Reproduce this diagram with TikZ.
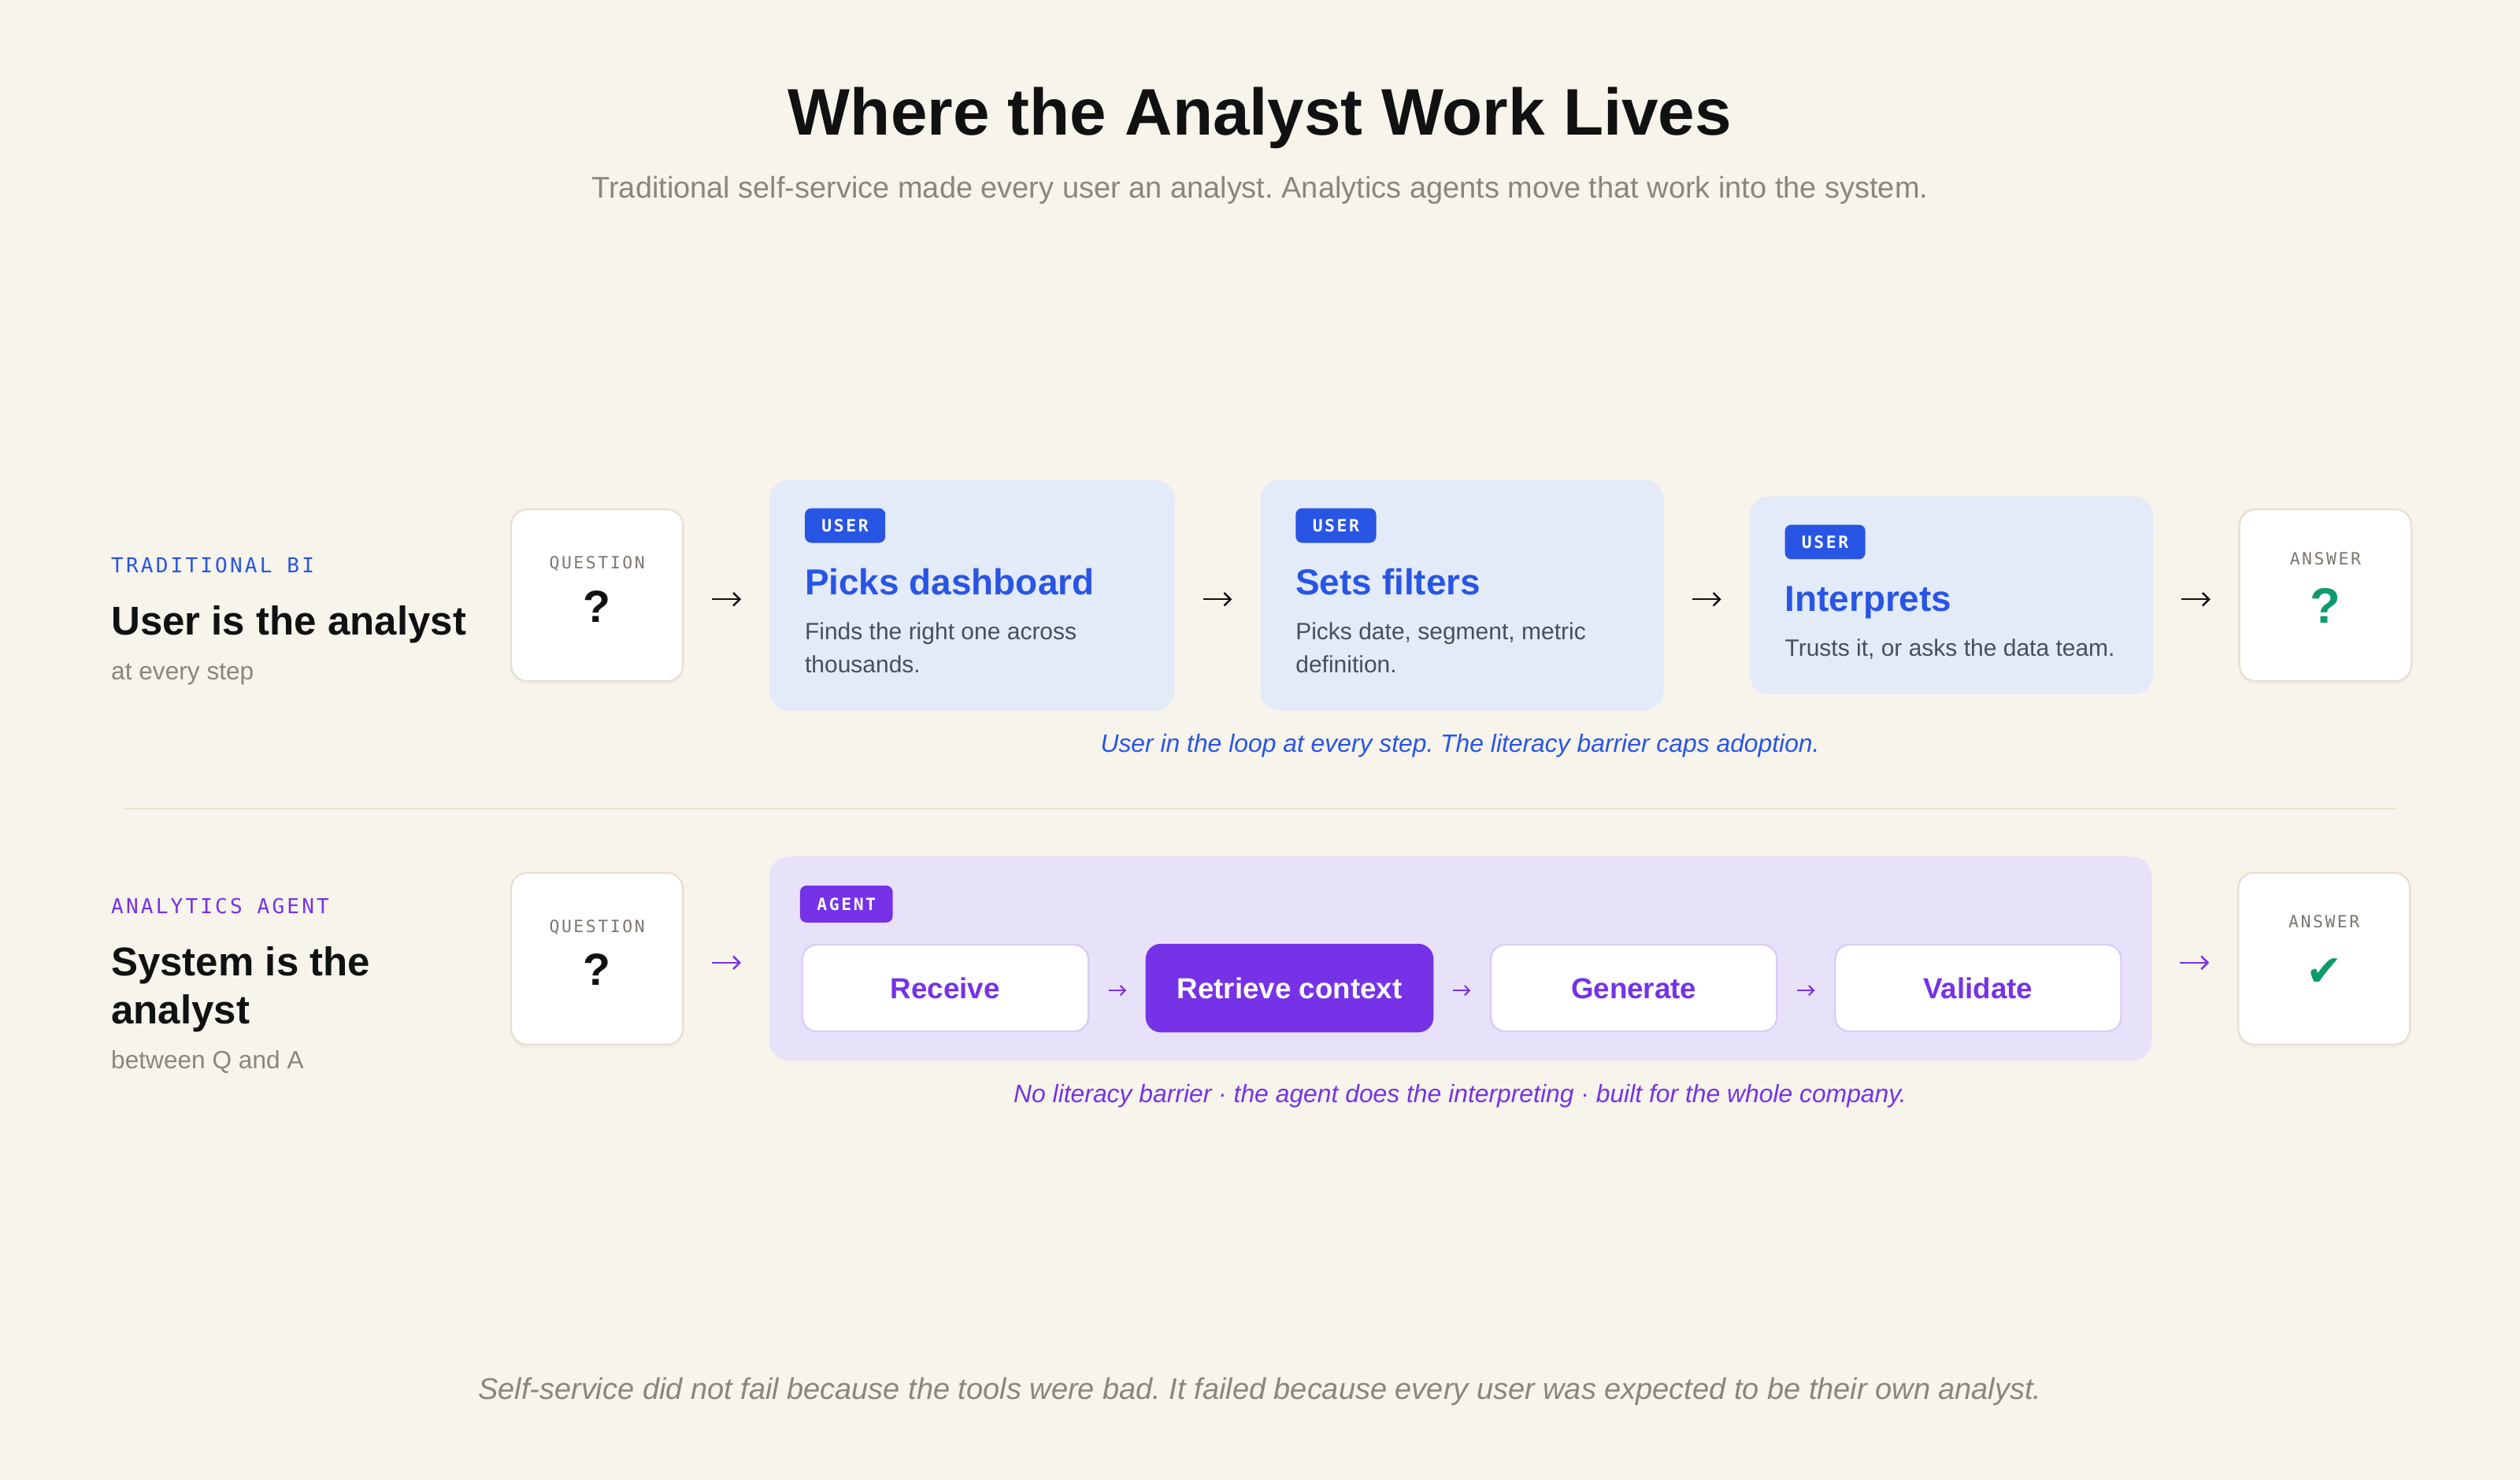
\documentclass[tikz,border=0pt]{standalone}
\usepackage{fontspec}
\setmainfont{Liberation Sans}
\newfontfamily\monofont[LetterSpace=12]{DejaVu Sans Mono}
\newfontfamily\symbolfont{DejaVu Sans}
\usetikzlibrary{positioning,arrows.meta,shadows}
\frenchspacing

\definecolor{bgcream}{HTML}{F7F4EC}
\definecolor{inkblack}{HTML}{111111}
\definecolor{userblue}{HTML}{2855E4}
\definecolor{cardblue}{HTML}{E3EAF8}
\definecolor{agentpurple}{HTML}{7632E6}
\definecolor{agentlav}{HTML}{E8E1FA}
\definecolor{stepline}{HTML}{DACDF6}
\definecolor{boxline}{HTML}{E7E0D2}
\definecolor{mutedgray}{HTML}{8A857D}
\definecolor{taggray}{HTML}{7C776F}
\definecolor{descgray}{HTML}{4A4E5B}
\definecolor{okgreen}{HTML}{0F9A6D}
\definecolor{rulebeige}{HTML}{E6E0CE}

\tikzset{
  titletext/.style={anchor=base, inner sep=0pt, text=inkblack, font=\fontsize{41}{49}\selectfont\bfseries},
  subtext/.style={anchor=base, inner sep=0pt, text=mutedgray, font=\fontsize{18.6}{22}\selectfont},
  rowtag/.style={anchor=base west, inner sep=0pt, font=\monofont\fontsize{12.8}{15}\selectfont},
  rowhead/.style={anchor=base west, inner sep=0pt, align=left, text=inkblack, font=\fontsize{25}{30}\selectfont\bfseries},
  rownote/.style={anchor=base west, inner sep=0pt, text=mutedgray, font=\fontsize{15.5}{18}\selectfont},
  endbox/.style={draw=boxline, line width=1.2pt, fill=white, rounded corners=10pt, minimum width=107pt, minimum height=107pt, inner sep=0pt, drop shadow={shadow xshift=0pt, shadow yshift=-2pt, opacity=.05}},
  boxtag/.style={anchor=base, inner sep=0pt, text=taggray, font=\monofont\fontsize{10.5}{12}\selectfont},
  boxmark/.style={anchor=base, inner sep=0pt, text=inkblack, font=\fontsize{28}{30}\selectfont\bfseries},
  card/.style={fill=cardblue, rounded corners=12pt, minimum height=143.5pt, inner sep=0pt},
  badge/.style={anchor=north west, text=white, rounded corners=4pt, inner xsep=10.5pt, inner ysep=0pt, minimum height=21.5pt, text height=7.7pt, text depth=0pt, font=\monofont\fontsize{10.5}{12}\selectfont\bfseries},
  cardtitle/.style={anchor=base west, inner sep=0pt, text=userblue, font=\fontsize{22.5}{27}\selectfont\bfseries},
  carddesc/.style={anchor=base west, inner sep=0pt, align=left, text=descgray, font=\fontsize{14.7}{20.3}\selectfont},
  caption/.style={anchor=base, inner sep=0pt, font=\fontsize{15.6}{18}\selectfont\itshape},
  agentbox/.style={fill=agentlav, rounded corners=12pt, minimum width=860pt, minimum height=127pt, inner sep=0pt},
  stepbox/.style={draw=stepline, line width=1.2pt, fill=white, rounded corners=9pt, minimum width=178pt, minimum height=54pt, inner sep=0pt, text=agentpurple, text height=12.9pt, text depth=0pt, font=\fontsize{18}{20}\selectfont\bfseries},
  flow/.style={draw=inkblack, line width=1.2pt, -{Straight Barb[length=4pt,width=8pt]}, shorten <=17.5pt, shorten >=17.5pt, transform canvas={yshift=-2.5pt}},
  stepflow/.style={draw=agentpurple, line width=1pt, -{Straight Barb[length=3pt,width=6pt]}, shorten <=12pt, shorten >=12pt, transform canvas={yshift=-1.5pt}}
}

\begin{document}
\begin{tikzpicture}[x=1pt,y=-1pt]
\useasboundingbox[fill=bgcream] (0,0) rectangle (1568,921);

\node[titletext] (title) at (784,84) {Where the Analyst Work Lives};
\node[subtext] (subtitle) at (784,123.3) {Traditional self-service made every user an analyst. Analytics agents move that work into the system.};

% traditional BI
\node[rowtag, text=userblue] (tradtag) at (69,356.7) {TRADITIONAL BI};
\node[rowhead] (tradhead) at (69,395.4) {User is the analyst};
\node[rownote] (tradnote) at (69,423) {at every step};

\node[endbox] (q1) at (371.5,370.5) {};
\node[boxtag] (q1tag) at ([yshift=-37.8pt]q1.north) {QUESTION};
\node[boxmark] (q1mark) at ([yshift=-71pt]q1.north) {?};

\node[card, minimum width=252pt, right=53pt of q1] (dash) {};
\node[badge, fill=userblue] (dashbadge) at ([shift={(22pt,-17.6pt)}]dash.north west) {USER};
\node[cardtitle] (dashtitle) at ([shift={(22pt,-71.5pt)}]dash.north west) {Picks dashboard};
\node[carddesc] (dashdesc) at ([shift={(22pt,-120pt)}]dash.north west) {Finds the right one across\\thousands.};

\node[card, minimum width=251pt, right=53pt of dash] (filt) {};
\node[badge, fill=userblue] (filtbadge) at ([shift={(22pt,-17.6pt)}]filt.north west) {USER};
\node[cardtitle] (filttitle) at ([shift={(22pt,-71.5pt)}]filt.north west) {Sets filters};
\node[carddesc] (filtdesc) at ([shift={(22pt,-120pt)}]filt.north west) {Picks date, segment, metric\\definition.};

\node[card, minimum width=251pt, minimum height=123pt, right=53pt of filt] (interp) {};
\node[badge, fill=userblue] (interpbadge) at ([shift={(22pt,-17.6pt)}]interp.north west) {USER};
\node[cardtitle] (interptitle) at ([shift={(22pt,-71.5pt)}]interp.north west) {Interprets};
\node[carddesc] (interpdesc) at ([shift={(22pt,-99.7pt)}]interp.north west) {Trusts it, or asks the data team.};

\node[endbox, right=53pt of interp] (a1) {};
\node[boxtag] (a1tag) at ([yshift=-35pt]a1.north) {ANSWER};
\node[boxmark, text=okgreen, font=\fontsize{31}{32}\selectfont\bfseries] (a1mark) at ([yshift=-71.6pt]a1.north) {?};

\draw[flow] (q1) -- (dash);
\draw[flow] (dash) -- (filt);
\draw[flow] (filt) -- (interp);
\draw[flow] (interp) -- (a1);

\node[caption, text=userblue] (tradcap) at (908.5,468) {User in the loop at every step. The literacy barrier caps adoption.};

\draw[rulebeige, line width=1pt] (78,503) -- (1490,503);

% analytics agent
\node[rowtag, text=agentpurple] (agenttag) at (69,568.4) {ANALYTICS AGENT};
\node[rowhead] (agenthead) at (69,637.3) {System is the\\analyst};
\node[rownote] (agentnote) at (69,665) {between Q and A};

\node[endbox] (q2) at (371.5,596.7) {};
\node[boxtag] (q2tag) at ([yshift=-38pt]q2.north) {QUESTION};
\node[boxmark] (q2mark) at ([yshift=-70.6pt]q2.north) {?};

\node[agentbox, right=53pt of q2] (agent) {};
\node[badge, fill=agentpurple, minimum height=23pt] (agentbadge) at ([shift={(19pt,-18pt)}]agent.north west) {AGENT};

\node[stepbox, anchor=west] (receive) at ([shift={(20pt,-82pt)}]agent.north west) {Receive};
\node[stepbox, right=35pt of receive, fill=agentpurple, draw=agentpurple, text=white] (retrieve) {Retrieve context};
\node[stepbox, right=35pt of retrieve] (generate) {Generate};
\node[stepbox, right=35pt of generate] (validate) {Validate};

\draw[stepflow] (receive) -- (retrieve);
\draw[stepflow] (retrieve) -- (generate);
\draw[stepflow] (generate) -- (validate);

\node[endbox, right=53pt of agent] (a2) {};
\node[boxtag] (a2tag) at ([yshift=-35pt]a2.north) {ANSWER};
\node[boxmark, text=okgreen, font=\symbolfont\fontsize{27}{28}\selectfont] (a2mark) at ([yshift=-71pt]a2.north) {✔};

\draw[flow, draw=agentpurple] (q2) -- (agent);
\draw[flow, draw=agentpurple] (agent) -- (a2);

\node[caption, text=agentpurple] (agentcap) at (908.5,686) {No literacy barrier · the agent does the interpreting · built for the whole company.};

\node[caption, text=mutedgray, font=\fontsize{18.6}{22}\selectfont\itshape] (footer) at (784,871) {Self-service did not fail because the tools were bad. It failed because every user was expected to be their own analyst.};
\end{tikzpicture}
\end{document}
